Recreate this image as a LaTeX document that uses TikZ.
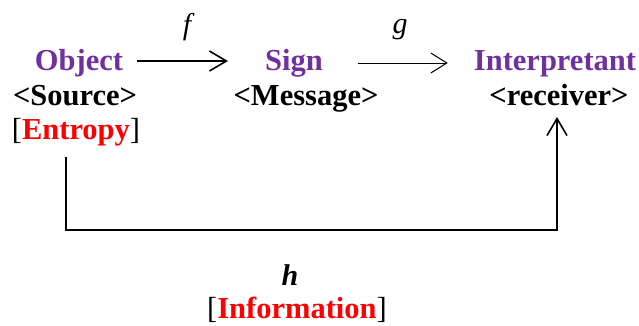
\documentclass[tikz,border=0pt]{standalone}
\usepackage{fontspec}
\setmainfont{Liberation Serif}
\usetikzlibrary{arrows.meta}
\definecolor{peirce}{HTML}{7030A0}
\definecolor{ired}{HTML}{FF0000}
\tikzset{
  lbl/.style={anchor=base, inner sep=0pt, font=\fontsize{30.5}{35}\selectfont\bfseries},
  purp/.style={lbl, text=peirce},
  fn/.style={anchor=base, inner sep=0pt, font=\fontsize{30}{35}\selectfont\itshape},
  arr/.style={-{Straight Barb[length=17pt,width=20pt]}, line width=1.6pt},
  arrthin/.style={-{Straight Barb[length=16pt,width=20pt]}, line width=1pt},
}
\begin{document}
\begin{tikzpicture}[x=1pt,y=-1pt]
\useasboundingbox (0,0) rectangle (639,325);
\node[purp] (obj) at (79,70) {Object};
\node[lbl] (src) at (75,105) {<Source>};
\node[lbl] (ent) at (76,139) {\mdseries[\textcolor{ired}{\bfseries Entropy}]};
\node[purp] (sign) at (294,70) {Sign};
\node[lbl] (msg) at (306,105) {<Message>};
\node[purp] (interp) at (555,70) {Interpretant};
\node[lbl] (recv) at (559,105) {<receiver>};
\node[fn] (f) at (187,34) {f};
\node[fn] (g) at (400,33) {g};
\node[fn, font=\fontsize{30}{35}\selectfont\bfseries\itshape] (h) at (290,285) {h};
\node[lbl] (info) at (297,318) {\mdseries[\textcolor{ired}{\bfseries Information}]};
\draw[arr] ([shift={(14,-9)}]obj.base east) -- ([shift={(-37,-9)}]sign.base west);
\draw[arrthin] ([shift={(35,-7)}]sign.base east) -- ([shift={(-26,-7)}]interp.base west);
\coordinate (c1) at (66,157);
\coordinate (c2) at (557,117);
\draw[arr] (c1) -- ++(0,73) -| (c2);
\end{tikzpicture}
\end{document}
